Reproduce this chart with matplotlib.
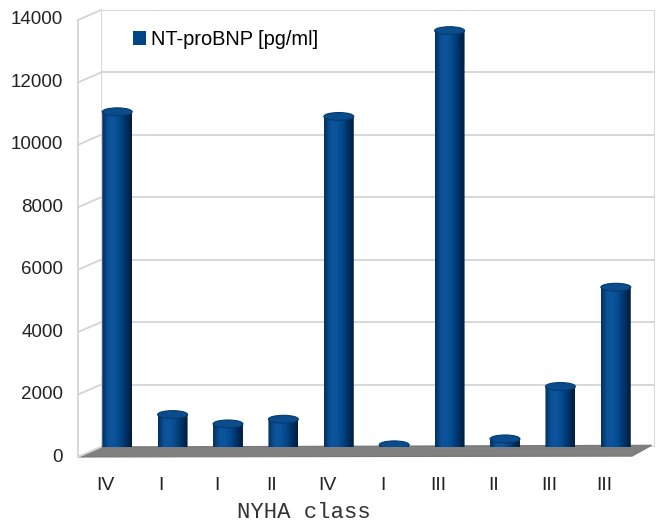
import numpy as np
import matplotlib
matplotlib.use('Agg')
import matplotlib.pyplot as plt
from matplotlib.colors import LinearSegmentedColormap
from matplotlib.patches import Polygon, Ellipse, ConnectionPatch, PathPatch, Rectangle
from matplotlib.path import Path
import matplotlib.transforms as mtransforms

# data
classes = ['IV', 'I', 'I', 'II', 'IV', 'I', 'III', 'II', 'III', 'III']
ntprobnp = [10900, 1200, 900, 1050, 10750, 230, 13500, 420, 2100, 5280]
yticks = [0, 2000, 4000, 6000, 8000, 10000, 12000, 14000]
series_name = 'NT-proBNP [pg/ml]'
xlabel = 'NYHA class'

blue = '#004586'
grid_col = '#d4d4d4'
plt.rcParams['font.family'] = ['Liberation Sans', 'DejaVu Sans']

W, H = 657, 530
fig = plt.figure(figsize=(W / 100, H / 100), dpi=100)
# back wall of the 3d box
L, R, T, B = 101, 655, 10, 447
ax = fig.add_axes([L / W, 1 - B / H, (R - L) / W, (B - T) / H])
ax.set_xlim(-0.5, len(classes) - 0.5)
ax.set_ylim(0, 14000)
ax.axis('off')

# depth of the box in pixels (front is left/down of the back wall)
dx, dy = -23, -10
px = fig.dpi_scale_trans
yblend = mtransforms.blended_transform_factory(ax.transAxes, ax.transData)
yfront = yblend + mtransforms.ScaledTranslation(dx / 100, dy / 100, px)
# bars stand halfway in the depth
bar_tr = ax.transData + mtransforms.ScaledTranslation(dx / 200, dy / 200, px)

# floor
fx, fy = dx / (R - L), dy / (B - T)
floor = Polygon([(0, 0), (0.994, 0.004), (1 + fx, fy + 0.002), (fx, fy)],
                closed=True, transform=ax.transAxes, facecolor='#808080',
                edgecolor='#777777', lw=0.8, clip_on=False, zorder=1)
ax.add_patch(floor)

# back wall grid + left wall lines
for v in yticks:
    ax.axhline(v, color=grid_col, lw=1.3, zorder=0.5)
    con = ConnectionPatch(xyA=(0, v), coordsA=yblend, xyB=(0, v), coordsB=yfront,
                          color=grid_col, lw=1.3, zorder=0.5)
    fig.add_artist(con)
    ax.text(0, v, str(v), transform=yfront + mtransforms.ScaledTranslation(-15 / 100, 0, px),
            ha='right', va='center', fontsize=13.5, color='#222222')
ax.axvline(-0.5, color=grid_col, lw=1.3, zorder=0.5)
ax.axvline(len(classes) - 0.5, color=grid_col, lw=1.3, zorder=0.5)
con = ConnectionPatch(xyA=(0, 0), coordsA=yfront, xyB=(0, 14000), coordsB=yfront,
                      color=grid_col, lw=1.3, zorder=0.5)
fig.add_artist(con)

# cylinder bars
cyl = LinearSegmentedColormap.from_list('cyl', ['#01305c', '#0b5299', '#0c559c',
                                                '#034889', '#003064', '#001c3c'])
grad = np.linspace(0, 1, 64).reshape(1, -1)
bw = 0.54
eh = 250  # ellipse height in data units
for i, v in enumerate(ntprobnp):
    x0, x1 = i - bw / 2, i + bw / 2
    t = np.linspace(np.pi, 2 * np.pi, 40)
    arc = np.column_stack([i + bw / 2 * np.cos(t), eh / 2 * np.sin(t)])
    verts = np.vstack([[(x0, v)], arc, [(x1, v), (x0, v)]])
    clip = PathPatch(Path(verts), transform=bar_tr, facecolor='none', edgecolor='none')
    ax.add_patch(clip)
    im = ax.imshow(grad, cmap=cyl, extent=[x0, x1, -eh, v], transform=bar_tr,
                   aspect='auto', zorder=2, interpolation='bilinear')
    im.set_clip_path(clip)
    top = Ellipse((i, v), bw, eh, transform=bar_tr, facecolor='#0a4c8c',
                  edgecolor='#073a6e', lw=0.8, zorder=3)
    ax.add_patch(top)

# category labels on the front edge
xlab_tr = mtransforms.blended_transform_factory(ax.transData, ax.transAxes) + \
    mtransforms.ScaledTranslation(dx / 100, -38 / 100, px)
for i, c in enumerate(classes):
    ax.text(i, 0, c, transform=xlab_tr, ha='center', va='center', fontsize=14,
            color='#222222')

fig.text(304 / W, 1 - 513 / H, xlabel, ha='center', va='center', fontsize=16,
         family=['Liberation Mono', 'DejaVu Sans Mono'], color='#333333')

# legend
leg = ax.legend([Rectangle((0, 0), 1, 1, facecolor=blue)], [series_name],
                loc='upper left', bbox_to_anchor=(32 / (R - L), (B - 30) / (B - T)),
                frameon=False, borderpad=0, borderaxespad=0,
                fontsize=14.4, handlelength=0.65, handleheight=0.65, handletextpad=0.25)

fig.savefig('out.png', dpi=100)
